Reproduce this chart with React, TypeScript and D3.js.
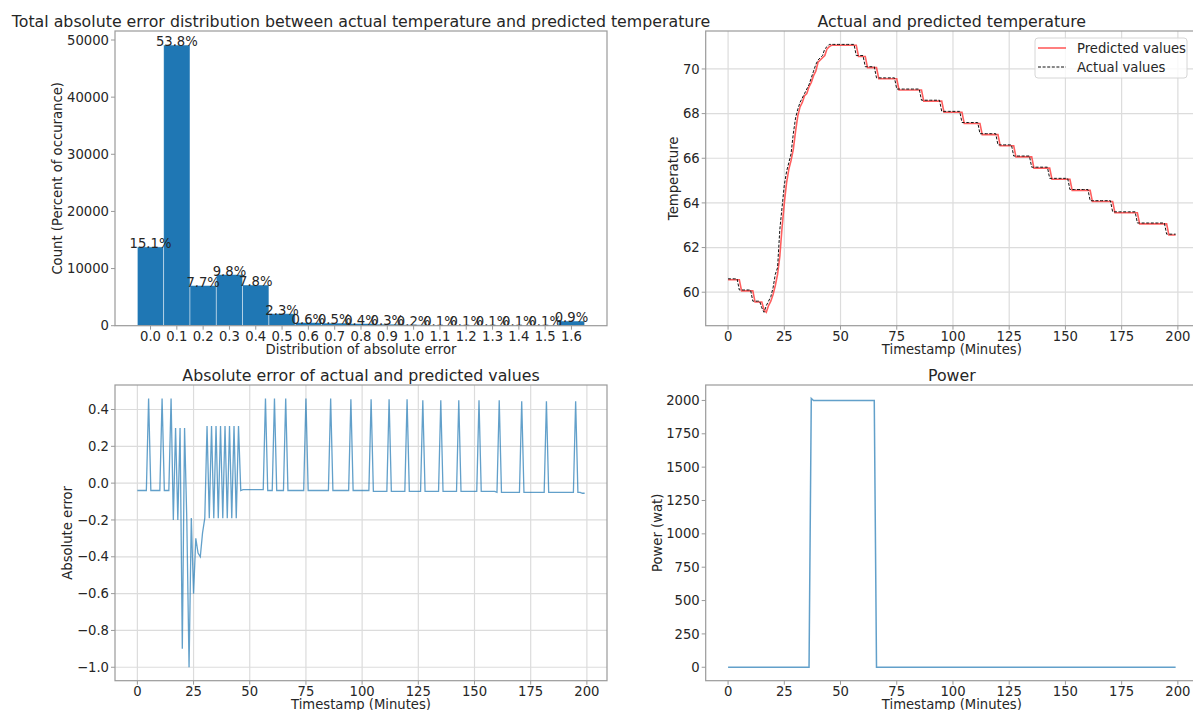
import React from 'react';
import * as d3 from 'd3';

// ---- histogram of absolute error ----
const binCenters = [0.0, 0.1, 0.2, 0.3, 0.4, 0.5, 0.6, 0.7, 0.8, 0.9, 1.0, 1.1, 1.2, 1.3, 1.4, 1.5, 1.6];
const binCounts = [13790, 49120, 7030, 8950, 7120, 2100, 550, 460, 370, 270, 180, 90, 90, 90, 90, 90, 820];
const binLabels = ['15.1%', '53.8%', '7.7%', '9.8%', '7.8%', '2.3%', '0.6%', '0.5%', '0.4%', '0.3%', '0.2%', '0.1%', '0.1%', '0.1%', '0.1%', '0.1%', '0.9%'];
const countTicks = [0, 10000, 20000, 30000, 40000, 50000];

// ---- temperature, one value per minute ----
const actualTemp = [
  60.6, 60.6, 60.6, 60.6, 60.6, 60.1, 60.1, 60.1, 60.1, 60.1,
  60.1, 59.6, 59.6, 59.6, 59.6, 59.3, 59.1, 59.4, 59.6, 59.8,
  60.2, 60.8, 61.1, 62.8, 63.8, 64.8, 65.4, 65.8, 66.2, 67.1,
  67.8, 68.2, 68.5, 68.7, 68.9, 69.1, 69.3, 69.6, 69.9, 70.2,
  70.4, 70.5, 70.6, 70.9, 71.0, 71.1, 71.1, 71.1, 71.1, 71.1,
  71.1, 71.1, 71.1, 71.1, 71.1, 71.1, 71.1, 70.6, 70.6, 70.6,
  70.6, 70.1, 70.1, 70.1, 70.1, 70.1, 69.6, 69.6, 69.6, 69.6,
  69.6, 69.6, 69.6, 69.6, 69.6, 69.1, 69.1, 69.1, 69.1, 69.1,
  69.1, 69.1, 69.1, 69.1, 69.1, 69.1, 68.6, 68.6, 68.6, 68.6,
  68.6, 68.6, 68.6, 68.6, 68.6, 68.1, 68.1, 68.1, 68.1, 68.1,
  68.1, 68.1, 68.1, 68.1, 67.6, 67.6, 67.6, 67.6, 67.6, 67.6,
  67.6, 67.6, 67.1, 67.1, 67.1, 67.1, 67.1, 67.1, 67.1, 67.1,
  66.6, 66.6, 66.6, 66.6, 66.6, 66.6, 66.6, 66.1, 66.1, 66.1,
  66.1, 66.1, 66.1, 66.1, 66.1, 65.6, 65.6, 65.6, 65.6, 65.6,
  65.6, 65.6, 65.6, 65.1, 65.1, 65.1, 65.1, 65.1, 65.1, 65.1,
  65.1, 65.1, 64.6, 64.6, 64.6, 64.6, 64.6, 64.6, 64.6, 64.6,
  64.6, 64.1, 64.1, 64.1, 64.1, 64.1, 64.1, 64.1, 64.1, 64.1,
  64.1, 63.6, 63.6, 63.6, 63.6, 63.6, 63.6, 63.6, 63.6, 63.6,
  63.6, 63.6, 63.1, 63.1, 63.1, 63.1, 63.1, 63.1, 63.1, 63.1,
  63.1, 63.1, 63.1, 63.1, 63.1, 62.6, 62.6, 62.6, 62.6, 62.6,
];
const predictedTemp = [
  60.56, 60.56, 60.56, 60.56, 60.56, 60.56, 60.06, 60.06, 60.06, 60.06,
  60.06, 60.06, 59.56, 59.56, 59.56, 59.56, 59.2, 59.1, 59.4, 59.6,
  59.9, 60.3, 60.8, 61.6, 62.9, 64.0, 64.9, 65.5, 65.9, 66.4,
  67.2, 67.9, 68.3, 68.5, 68.8, 68.9, 69.2, 69.4, 69.7, 69.9,
  70.3, 70.4, 70.5, 70.6, 70.9, 71.0, 71.06, 71.06, 71.06, 71.06,
  71.06, 71.06, 71.06, 71.06, 71.06, 71.06, 71.06, 71.06, 70.56, 70.56,
  70.56, 70.56, 70.06, 70.06, 70.06, 70.06, 70.06, 69.56, 69.56, 69.56,
  69.56, 69.56, 69.56, 69.56, 69.56, 69.56, 69.06, 69.06, 69.06, 69.06,
  69.06, 69.06, 69.06, 69.06, 69.06, 69.06, 69.06, 68.56, 68.56, 68.56,
  68.56, 68.56, 68.56, 68.56, 68.56, 68.56, 68.06, 68.06, 68.06, 68.06,
  68.06, 68.06, 68.06, 68.06, 68.06, 67.56, 67.56, 67.56, 67.56, 67.56,
  67.56, 67.56, 67.56, 67.06, 67.06, 67.06, 67.06, 67.06, 67.06, 67.06,
  67.06, 66.56, 66.56, 66.56, 66.56, 66.56, 66.56, 66.56, 66.06, 66.06,
  66.06, 66.06, 66.06, 66.06, 66.06, 66.06, 65.56, 65.56, 65.56, 65.56,
  65.56, 65.56, 65.56, 65.56, 65.06, 65.06, 65.06, 65.06, 65.06, 65.06,
  65.06, 65.06, 65.06, 64.56, 64.56, 64.56, 64.56, 64.56, 64.56, 64.56,
  64.56, 64.56, 64.06, 64.06, 64.06, 64.06, 64.06, 64.06, 64.06, 64.06,
  64.06, 64.06, 63.56, 63.56, 63.56, 63.56, 63.56, 63.56, 63.56, 63.56,
  63.56, 63.56, 63.56, 63.06, 63.06, 63.06, 63.06, 63.06, 63.06, 63.06,
  63.06, 63.06, 63.06, 63.06, 63.06, 63.06, 62.56, 62.56, 62.56, 62.56,
];
const tempTicks = [60, 62, 64, 66, 68, 70];
const timeTicks = [0, 25, 50, 75, 100, 125, 150, 175, 200];

// ---- absolute error, one value per minute ----
const absError = [
  -0.04, -0.04, -0.04, -0.04, -0.04, 0.46, -0.04, -0.04, -0.04, -0.04,
  -0.04, 0.46, -0.04, -0.04, -0.04, 0.46, -0.2, 0.3, -0.2, 0.3,
  -0.9, 0.3, -0.2, -1.0, -0.19, -0.6, -0.3, -0.38, -0.4, -0.27,
  -0.19, 0.31, -0.19, 0.31, -0.19, 0.31, -0.19, 0.31, -0.19, 0.31,
  -0.19, 0.31, -0.19, 0.31, -0.19, 0.31, -0.04, -0.035, -0.035, -0.035,
  -0.035, -0.035, -0.035, -0.035, -0.035, -0.035, -0.035, 0.46, -0.04, -0.04,
  -0.04, 0.46, -0.04, -0.04, -0.04, -0.04, 0.46, -0.04, -0.04, -0.04,
  -0.04, -0.04, -0.04, -0.04, -0.04, 0.46, -0.04, -0.04, -0.04, -0.04,
  -0.04, -0.04, -0.04, -0.04, -0.04, -0.04, 0.46, -0.04, -0.04, -0.04,
  -0.04, -0.04, -0.04, -0.04, -0.04, 0.455, -0.04, -0.04, -0.04, -0.04,
  -0.04, -0.04, -0.04, -0.04, 0.455, -0.045, -0.045, -0.045, -0.045, -0.045,
  -0.045, -0.045, 0.455, -0.045, -0.045, -0.045, -0.045, -0.045, -0.045, -0.045,
  0.455, -0.045, -0.045, -0.045, -0.045, -0.045, -0.045, 0.45, -0.045, -0.045,
  -0.045, -0.045, -0.045, -0.045, -0.045, 0.45, -0.045, -0.045, -0.045, -0.045,
  -0.045, -0.045, -0.045, 0.45, -0.045, -0.045, -0.045, -0.045, -0.045, -0.045,
  -0.045, -0.045, 0.45, -0.045, -0.045, -0.045, -0.045, -0.045, -0.045, -0.045,
  -0.05, 0.45, -0.05, -0.05, -0.05, -0.05, -0.05, -0.05, -0.05, -0.05,
  -0.05, 0.445, -0.05, -0.05, -0.05, -0.05, -0.05, -0.05, -0.05, -0.05,
  -0.05, -0.05, 0.445, -0.05, -0.05, -0.05, -0.05, -0.05, -0.05, -0.05,
  -0.05, -0.05, -0.05, -0.05, -0.05, 0.445, -0.05, -0.05, -0.055, -0.055,
];
const errorTicks = [-1.0, -0.8, -0.6, -0.4, -0.2, 0.0, 0.2, 0.4];

// ---- heater power ----
const powerTime = [0, 36, 37, 38, 65, 66, 199];
const powerValue = [0, 0, 2015, 2000, 2000, 0, 0];
const powerTicks = [0, 250, 500, 750, 1000, 1250, 1500, 1750, 2000];

const FONT = '"DejaVu Sans", sans-serif';
const TXT = '#262626';
const SPINE = '#9a9a9a';
const GRID = '#dcdcdc';
const BLUE = '#1f77b4';
const TICK_FS = 13.2;
const TITLE_FS = 15.8;

const boxA = { left: 115, right: 607, top: 31, bottom: 325.7 };
const boxB = { left: 705.7, right: 1198, top: 31, bottom: 325.7 };
const boxC = { left: 115, right: 607, top: 385, bottom: 680.7 };
const boxD = { left: 705.7, right: 1198, top: 385, bottom: 680.7 };

const pad = (lo, hi) => [lo - (hi - lo) * 0.05, hi + (hi - lo) * 0.05];

function Panel({ box, x, y, xTicks, yTicks, xFmt, yFmt, grid, title, xLabel, yLabel, yLabelOff, titleY, children }) {
  const cx = (box.left + box.right) / 2;
  const cy = (box.top + box.bottom) / 2;
  return (
    <g fontFamily={FONT} fill={TXT}>
      {grid && xTicks.map(t => (
        <line key={'gx' + t} x1={x(t)} x2={x(t)} y1={box.top} y2={box.bottom} stroke={GRID} strokeWidth={1.2} />
      ))}
      {grid && yTicks.map(t => (
        <line key={'gy' + t} x1={box.left} x2={box.right} y1={y(t)} y2={y(t)} stroke={GRID} strokeWidth={1.2} />
      ))}
      {children}
      <rect x={box.left} y={box.top} width={box.right - box.left} height={box.bottom - box.top}
        fill="none" stroke={SPINE} strokeWidth={1.2} />
      {xTicks.map(t => (
        <g key={'tx' + t}>
          <line x1={x(t)} x2={x(t)} y1={box.bottom} y2={box.bottom + 4} stroke={SPINE} />
          <text x={x(t)} y={box.bottom + 15} fontSize={TICK_FS} textAnchor="middle">{xFmt(t)}</text>
        </g>
      ))}
      {yTicks.map(t => (
        <g key={'ty' + t}>
          <line x1={box.left - 4} x2={box.left} y1={y(t)} y2={y(t)} stroke={SPINE} />
          <text x={box.left - 6} y={y(t)} dy="0.35em" fontSize={TICK_FS} textAnchor="end">{yFmt(t)}</text>
        </g>
      ))}
      <text x={cx} y={titleY} fontSize={TITLE_FS} textAnchor="middle">{title}</text>
      <text x={cx} y={box.bottom + 28.5} fontSize={TICK_FS} textAnchor="middle">{xLabel}</text>
      <text x={box.left - yLabelOff} y={cy} fontSize={TICK_FS} textAnchor="middle" dominantBaseline="central"
        transform={`rotate(-90, ${box.left - yLabelOff}, ${cy})`}>{yLabel}</text>
    </g>
  );
}

export default function App() {
  const fmt1 = d3.format('.1f');
  const fmt0 = d => String(d);

  // A: histogram
  const xA = d3.scaleLinear().domain(pad(-0.05, 1.65)).range([boxA.left, boxA.right]);
  const yA = d3.scaleLinear().domain([0, d3.max(binCounts) * 1.05]).range([boxA.bottom, boxA.top]);
  const binW = xA(0.1) - xA(0);

  // B: temperature
  const xB = d3.scaleLinear().domain(pad(0, actualTemp.length - 1)).range([boxB.left, boxB.right]);
  const tAll = actualTemp.concat(predictedTemp);
  const yB = d3.scaleLinear().domain(pad(d3.min(tAll), d3.max(tAll))).range([boxB.bottom, boxB.top]);
  const tempLine = d3.line().x((_, i) => xB(i)).y(d => yB(d));

  // C: error
  const xC = d3.scaleLinear().domain(pad(0, absError.length - 1)).range([boxC.left, boxC.right]);
  const yC = d3.scaleLinear().domain(pad(d3.min(absError), d3.max(absError))).range([boxC.bottom, boxC.top]);
  const errLine = d3.line().x((_, i) => xC(i)).y(d => yC(d));

  // D: power
  const xD = d3.scaleLinear().domain(pad(0, 199)).range([boxD.left, boxD.right]);
  const yD = d3.scaleLinear().domain(pad(0, d3.max(powerValue))).range([boxD.bottom, boxD.top]);
  const powLine = d3.line().x((_, i) => xD(powerTime[i])).y(d => yD(d));

  const legX = boxB.right - 163;
  const legY = boxB.top + 7;

  return (
    <svg width={1193} height={710} style={{ position: 'absolute', left: 0, top: 0, background: '#fff' }}>
      <Panel box={boxA} x={xA} y={yA} xTicks={binCenters} yTicks={countTicks} xFmt={fmt1} yFmt={fmt0}
        grid={false} titleY={27} yLabelOff={57}
        title="Total absolute error distribution between actual temperature and predicted temperature"
        xLabel="Distribution of absolute error" yLabel="Count (Percent of occurance)">
        {binCounts.map((c, i) => (
          <rect key={i} x={xA(binCenters[i]) - binW / 2} y={yA(c)} width={binW} height={yA(0) - yA(c)}
            fill={BLUE} stroke="#fff" strokeOpacity={0.55} strokeWidth={0.8} />
        ))}
        {binCounts.map((c, i) => (
          <text key={'l' + i} x={xA(binCenters[i])} y={yA(c) + 1} fontSize={TICK_FS} textAnchor="middle">{binLabels[i]}</text>
        ))}
      </Panel>

      <Panel box={boxB} x={xB} y={yB} xTicks={timeTicks} yTicks={tempTicks} xFmt={fmt0} yFmt={fmt0}
        grid={true} titleY={27} yLabelOff={32}
        title="Actual and predicted temperature" xLabel="Timestamp (Minutes)" yLabel="Temperature">
        <path d={tempLine(predictedTemp)} fill="none" stroke="#ff2a2a" strokeOpacity={0.75} strokeWidth={1.6} />
        <path d={tempLine(actualTemp)} fill="none" stroke="#111" strokeWidth={1} strokeDasharray="3 1.6" />
        <rect x={legX} y={legY} width={152} height={40} rx={3} fill="#fff" fillOpacity={0.8} stroke="#d6d6d6" />
        <line x1={legX + 3} x2={legX + 31} y1={legY + 10} y2={legY + 10} stroke="#ff2a2a" strokeOpacity={0.75} strokeWidth={1.6} />
        <text x={legX + 42} y={legY + 10} dy="0.35em" fontSize={TICK_FS}>Predicted values</text>
        <line x1={legX + 3} x2={legX + 31} y1={legY + 29} y2={legY + 29} stroke="#111" strokeWidth={1} strokeDasharray="3 1.6" />
        <text x={legX + 42} y={legY + 29} dy="0.35em" fontSize={TICK_FS}>Actual values</text>
      </Panel>

      <Panel box={boxC} x={xC} y={yC} xTicks={timeTicks} yTicks={errorTicks} xFmt={fmt0} yFmt={fmt1}
        grid={true} titleY={381} yLabelOff={47}
        title="Absolute error of actual and predicted values" xLabel="Timestamp (Minutes)" yLabel="Absolute error">
        <path d={errLine(absError)} fill="none" stroke={BLUE} strokeOpacity={0.7} strokeWidth={1.3} />
      </Panel>

      <Panel box={boxD} x={xD} y={yD} xTicks={timeTicks} yTicks={powerTicks} xFmt={fmt0} yFmt={fmt0}
        grid={false} titleY={381} yLabelOff={48}
        title="Power" xLabel="Timestamp (Minutes)" yLabel="Power (wat)">
        <path d={powLine(powerValue)} fill="none" stroke={BLUE} strokeOpacity={0.7} strokeWidth={1.5} />
      </Panel>
    </svg>
  );
}
